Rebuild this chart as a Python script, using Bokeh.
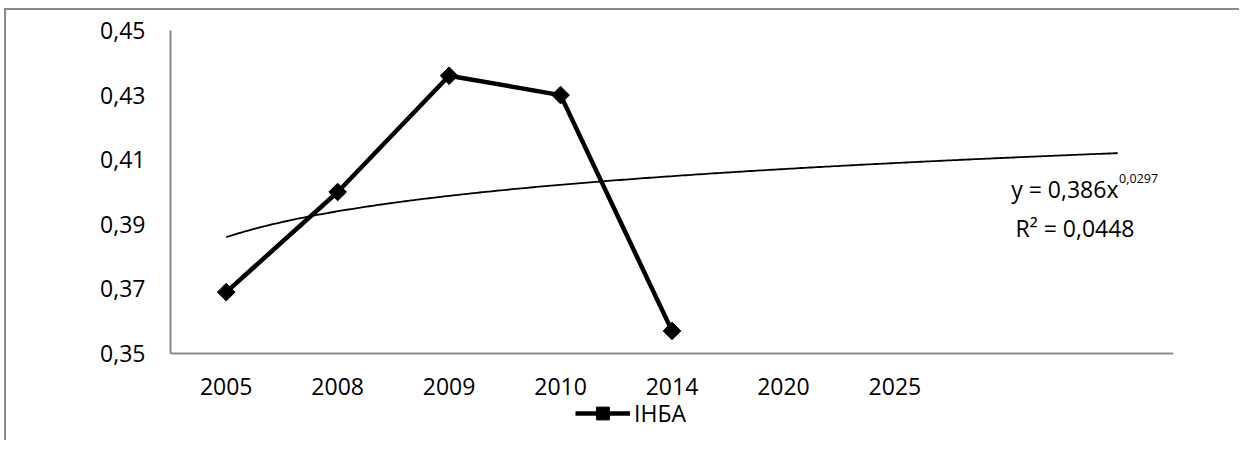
import numpy as np
from bokeh.plotting import figure
from bokeh.models import (Range1d, FixedTicker, Legend, LegendItem, Label, ColumnDataSource)
from bokeh.embed import file_html
from bokeh.resources import INLINE

# ---- data ----
years = ["2005", "2008", "2009", "2010", "2014", "2020", "2025", "", ""]
inba_years = ["2005", "2008", "2009", "2010", "2014"]
inba_values = [0.369, 0.400, 0.436, 0.430, 0.357]
y_ticks = [0.35, 0.37, 0.39, 0.41, 0.43, 0.45]
y_tick_labels = ["0,35", "0,37", "0,39", "0,41", "0,43", "0,45"]
TREND_A = 0.386
TREND_B = 0.0297
trend_eq = "y = 0,386x"
trend_exp = "0,0297"
trend_r2 = "R² = 0,0448"
series_name = "ІНБА"
x_title = "Рік"

FONT = "Open Sans"
FS = "23px"
AXIS_COLOR = "#8a8a8a"

Y_MIN, Y_MAX = y_ticks[0], y_ticks[-1]
FRAME_H = 410
PX_PER_UNIT = 323 / (Y_MAX - Y_MIN)
y_lo = Y_MAX - FRAME_H / PX_PER_UNIT   # frame extends below the axis to hold the legend

p = figure(frame_width=1003, frame_height=FRAME_H, output_backend="svg", toolbar_location=None,
           x_range=Range1d(0.5, len(years) + 0.5), y_range=Range1d(y_lo, Y_MAX),
           min_border_left=164, min_border_right=66, min_border_top=20, min_border_bottom=0)
p.styles = {"border-top": "2px solid #8a8a8a", "border-left": "2px solid #8a8a8a",
            "margin-left": "4px", "margin-top": "8px"}
p.outline_line_color = None
p.xgrid.visible = False
p.ygrid.visible = False
p.background_fill_color = "white"
p.border_fill_color = "white"

xpos = [years.index(y) + 1 for y in inba_years]
src = ColumnDataSource(dict(x=xpos, y=inba_values))
ln = p.line("x", "y", source=src, line_color="black", line_width=4.5)
mk = p.scatter("x", "y", source=src, marker="square", angle=np.pi / 4, size=12.5,
               fill_color="black", line_color="black")

# power trendline from displayed equation
tx = np.linspace(1, len(years), 300)
ty = TREND_A * tx ** TREND_B
p.line(tx, ty, line_color="black", line_width=1.8)

# axes
xa = p.xaxis[0]
xa.ticker = FixedTicker(ticks=list(range(1, len(years) + 1)))
xa.major_label_overrides = {i + 1: y for i, y in enumerate(years)}
xa.fixed_location = Y_MIN
ya = p.yaxis[0]
ya.ticker = FixedTicker(ticks=y_ticks)
ya.major_label_overrides = {t: l for t, l in zip(y_ticks, y_tick_labels)}
ya.bounds = (Y_MIN, Y_MAX)
for ax in (xa, ya):
    ax.axis_line_color = AXIS_COLOR
    ax.axis_line_width = 2
    ax.major_tick_line_color = None
    ax.minor_tick_line_color = None
    ax.major_tick_out = 0
    ax.major_tick_in = 0
    ax.major_label_text_font = FONT
    ax.major_label_text_font_size = FS
    ax.major_label_text_color = "black"
xa.major_label_standoff = 24
ya.major_label_standoff = 25

# texts
p.add_layout(Label(x=9.006, y=0.4009, text=trend_eq, text_align="right", text_baseline="alphabetic",
                   text_font=FONT, text_font_size=FS, text_color="black"))
p.add_layout(Label(x=9.012, y=0.4041, text=trend_exp, text_align="left", text_baseline="alphabetic",
                   text_font=FONT, text_font_size="12.5px", text_color="black"))
p.add_layout(Label(x=9.15, y=0.3888, text=trend_r2, text_align="right", text_baseline="alphabetic",
                   text_font=FONT, text_font_size=FS, text_color="black"))
p.add_layout(Label(x=9.77, y=0.3580, text=x_title, text_align="center", text_baseline="middle",
                   text_font=FONT, text_font_size=FS, text_color="black"))

legend = Legend(items=[LegendItem(label=series_name, renderers=[ln, mk])],
                location=(405, 11), orientation="horizontal",
                glyph_width=55, glyph_height=32, label_standoff=4,
                padding=0, margin=0, spacing=0,
                border_line_color=None, background_fill_alpha=0,
                label_text_font=FONT, label_text_font_size=FS, label_text_color="black")
p.add_layout(legend, "center")

open("out.html", "w").write(file_html(p, INLINE))
